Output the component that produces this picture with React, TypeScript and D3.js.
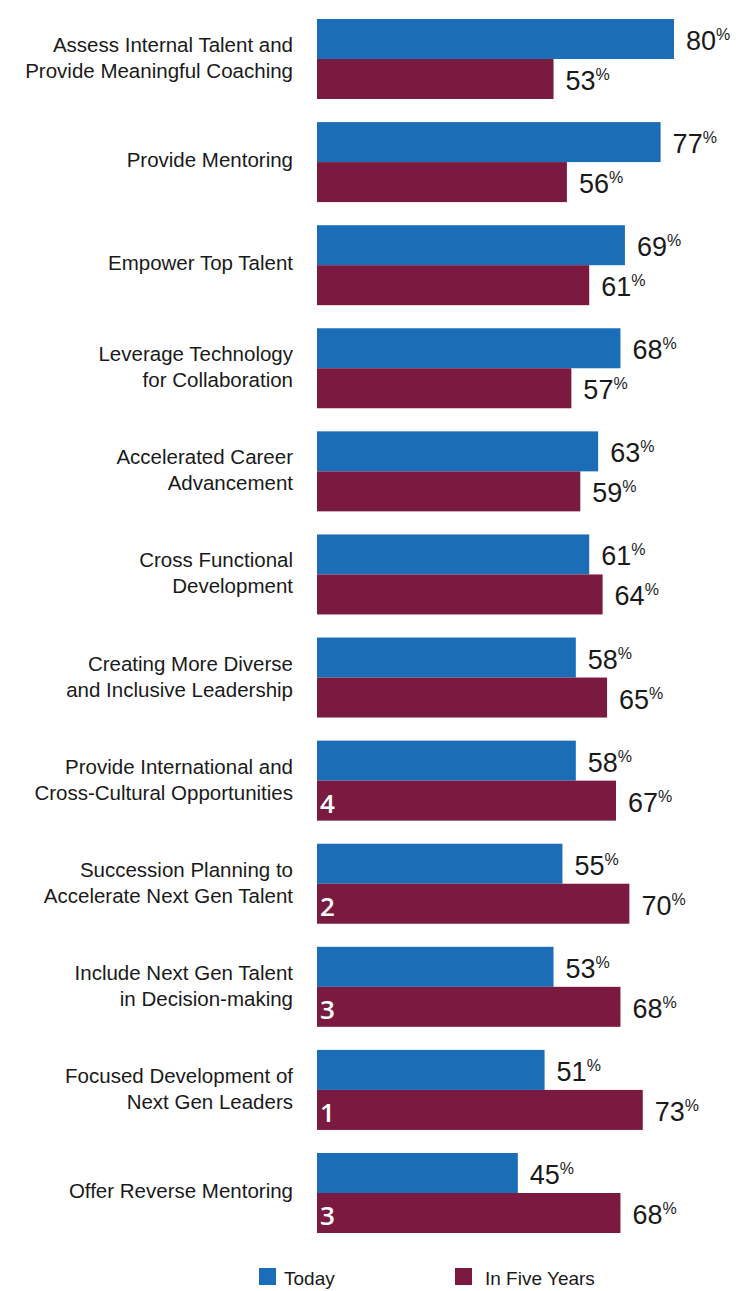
import React from 'react';
import * as d3 from 'd3';

const categories = [
  ['Assess Internal Talent and', 'Provide Meaningful Coaching'],
  ['Provide Mentoring'],
  ['Empower Top Talent'],
  ['Leverage Technology', 'for Collaboration'],
  ['Accelerated Career', 'Advancement'],
  ['Cross Functional', 'Development'],
  ['Creating More Diverse', 'and Inclusive Leadership'],
  ['Provide International and', 'Cross-Cultural Opportunities'],
  ['Succession Planning to', 'Accelerate Next Gen Talent'],
  ['Include Next Gen Talent', 'in Decision-making'],
  ['Focused Development of', 'Next Gen Leaders'],
  ['Offer Reverse Mentoring'],
];
const today = [80, 77, 69, 68, 63, 61, 58, 58, 55, 53, 51, 45];
const inFiveYears = [53, 56, 61, 57, 59, 64, 65, 67, 70, 68, 73, 68];
const ranks = [null, null, null, null, null, null, null, 4, 2, 3, 1, 3];
const seriesNames = ['Today', 'In Five Years'];

const BLUE = '#1b6db7';
const MAROON = '#7a1a40';

export default function App() {
  const width = 753;
  const height = 1291;
  const keys = categories.map((_, i) => String(i));

  const x = d3.scaleLinear().domain([0, 80]).range([317, 674]);
  const y = d3.scaleBand<string>().domain(keys).range([19, 1233]).paddingInner(0.224).paddingOuter(0);
  const inner = d3.scaleBand<string>().domain(seriesNames).range([0, y.bandwidth()]);

  const font = 'Liberation Sans, Arial, sans-serif';

  return (
    <svg width={width} height={height} style={{ position: 'absolute', left: 0, top: 0, background: '#fff' }}>
      {keys.map((k, i) => {
        const y0 = y(k)!;
        const mid = y0 + y.bandwidth() / 2;
        const lines = categories[i];
        const lh = 26;
        return (
          <g key={k}>
            {lines.map((ln, j) => (
              <text key={j} x={293} y={mid + 6 + (j - (lines.length - 1) / 2) * lh - (lines.length === 1 ? 1 : 0)}
                textAnchor="end" fontFamily={font} fontSize={20.5} fill="#1a1a1a">{ln}</text>
            ))}
            {[today[i], inFiveYears[i]].map((v, s) => {
              const by = y0 + inner(seriesNames[s])!;
              const bh = inner.bandwidth();
              return (
                <g key={s}>
                  <rect x={x(0)} y={by} width={x(v) - x(0)} height={bh} fill={s === 0 ? BLUE : MAROON} />
                  <text x={x(v) + 12} y={by + bh / 2 + 11} fontFamily={font} fontSize={27} fill="#1a1a1a">
                    {v}
                    <tspan fontSize={16} dy={-10}>%</tspan>
                  </text>
                </g>
              );
            })}
            {ranks[i] != null && (
              <text x={320} y={y0 + inner('In Five Years')! + inner.bandwidth() / 2 + 12} fontFamily="Open Sans, DejaVu Sans, sans-serif"
                fontSize={26} fontWeight={600} fill="#fff">{ranks[i]}</text>
            )}
          </g>
        );
      })}
      <g fontFamily={font} fontSize={19} fill="#1a1a1a">
        <rect x={259} y={1268} width={17} height={17} fill={BLUE} />
        <text x={284} y={1285}>{seriesNames[0]}</text>
        <rect x={455} y={1268} width={17} height={17} fill={MAROON} />
        <text x={485} y={1285}>{seriesNames[1]}</text>
      </g>
    </svg>
  );
}
